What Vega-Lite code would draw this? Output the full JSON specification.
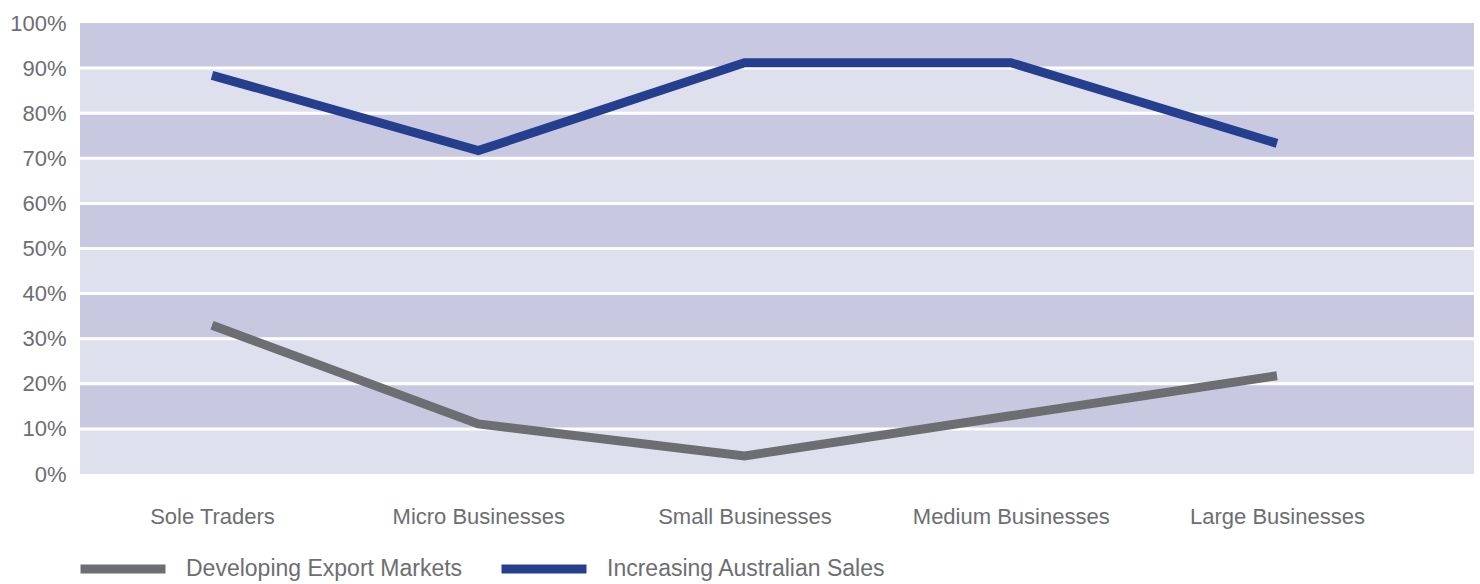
{
  "$schema": "https://vega.github.io/schema/vega-lite/v6.json",
  "width": 1394,
  "height": 451,
  "autosize": "none",
  "padding": {"left": 80, "top": 23, "right": 6, "bottom": 110},
  "background": "white",
  "view": {"fill": "#dfe0ee", "stroke": null},
  "config": {
    "font": "Liberation Sans",
    "axis": {"labelFont": "Liberation Sans", "labelColor": "#6d6e71"},
    "legend": {"labelFont": "Liberation Sans", "labelColor": "#6d6e71"}
  },
  "datasets": {
    "bands": [
      {"lo": 10, "hi": 20}, {"lo": 30, "hi": 40}, {"lo": 50, "hi": 60}, {"lo": 70, "hi": 80}, {"lo": 90, "hi": 100}
    ],
    "grid": [
      {"v": 10}, {"v": 20}, {"v": 30}, {"v": 40}, {"v": 50}, {"v": 60}, {"v": 70}, {"v": 80}, {"v": 90}
    ],
    "series": [
      {"cat": "Sole Traders", "series": "Developing Export Markets", "value": 33},
      {"cat": "Micro Businesses", "series": "Developing Export Markets", "value": 11.1},
      {"cat": "Small Businesses", "series": "Developing Export Markets", "value": 4},
      {"cat": "Medium Businesses", "series": "Developing Export Markets", "value": 12.9},
      {"cat": "Large Businesses", "series": "Developing Export Markets", "value": 21.8},
      {"cat": "Sole Traders", "series": "Increasing Australian Sales", "value": 88.4},
      {"cat": "Micro Businesses", "series": "Increasing Australian Sales", "value": 71.7},
      {"cat": "Small Businesses", "series": "Increasing Australian Sales", "value": 91.2},
      {"cat": "Medium Businesses", "series": "Increasing Australian Sales", "value": 91.2},
      {"cat": "Large Businesses", "series": "Increasing Australian Sales", "value": 73.3}
    ]
  },
  "layer": [
    {
      "data": {"name": "bands"},
      "mark": {"type": "rect", "color": "#c8c8e0"},
      "encoding": {
        "y": {"field": "lo", "type": "quantitative", "scale": {"domain": [0, 100], "nice": false},
          "axis": {"values": [0, 10, 20, 30, 40, 50, 60, 70, 80, 90, 100], "labelExpr": "datum.value + '%'", "title": null, "domain": false, "ticks": false, "grid": false, "labelFontSize": 22, "labelPadding": 14}},
        "y2": {"field": "hi"}
      }
    },
    {
      "data": {"name": "grid"},
      "mark": {"type": "rule", "color": "white", "strokeWidth": 3},
      "encoding": {"y": {"field": "v", "type": "quantitative"}}
    },
    {
      "data": {"name": "series"},
      "mark": {"type": "line", "strokeWidth": 9, "strokeJoin": "miter", "strokeCap": "butt"},
      "encoding": {
        "x": {"field": "cat", "type": "nominal", "sort": null,
          "scale": {"type": "point", "range": [132, 1197], "padding": 0},
          "axis": {"title": null, "domain": false, "ticks": false, "grid": false, "labelAngle": 0, "labelFontSize": 22, "labelPadding": 32, "labelLimit": 0}},
        "y": {"field": "value", "type": "quantitative"},
        "color": {"field": "series", "type": "nominal",
          "scale": {"domain": ["Developing Export Markets", "Increasing Australian Sales"], "range": ["#6d6e71", "#253f8e"]},
          "legend": {"title": null, "orient": "none", "direction": "horizontal", "legendX": -4, "legendY": 499,
            "symbolType": "stroke", "symbolSize": 7225, "symbolStrokeWidth": 9, "labelFontSize": 23, "labelOffset": 16, "columnPadding": 20, "labelLimit": 0}}
      }
    }
  ]
}
